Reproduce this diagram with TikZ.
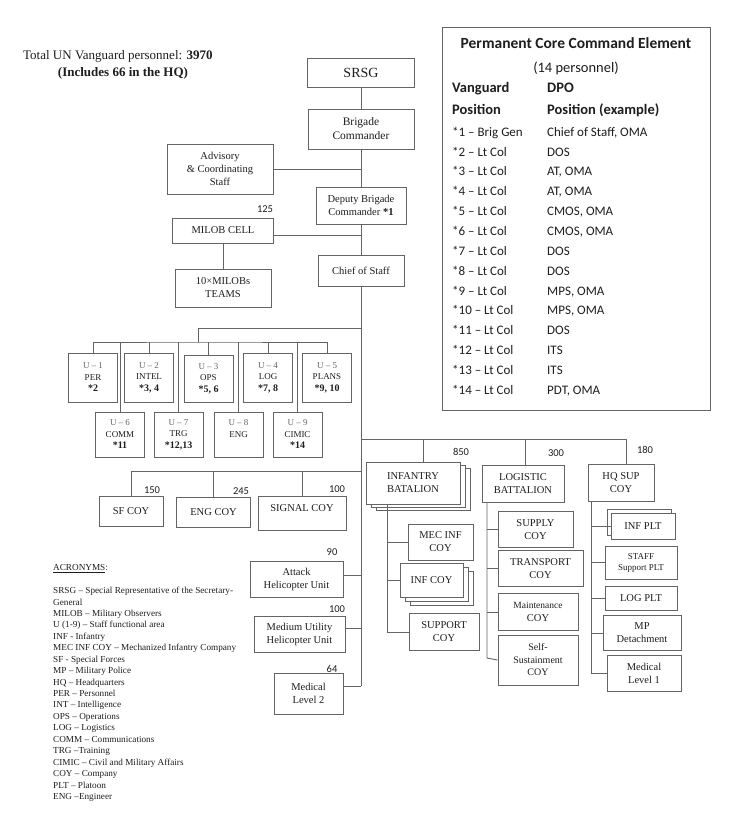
\documentclass[tikz,border=0pt]{standalone}
\usepackage{fontspec}
\setmainfont{Liberation Serif}
\newfontfamily\calibri{Carlito}
\usetikzlibrary{shadows}
\definecolor{linegray}{RGB}{100,100,100}
\definecolor{textgray}{RGB}{30,30,30}
\newcommand{\ulab}[3]{{\color{black!60}U – #1}\\#2\\{\fontsize{10}{11.5}\selectfont\bfseries #3}}

\begin{document}
\begin{tikzpicture}[x=1pt,y=-1pt]
\tikzstyle{every node}+=[inner sep=0pt, text=textgray]
\tikzstyle{box}=[draw=linegray, fill=white, line width=0.9pt, align=center, font=\fontsize{10.5}{13}\selectfont]
\tikzstyle{ubox}=[box, minimum width=49pt, font=\fontsize{9}{11.5}\selectfont]
\tikzstyle{num}=[font=\calibri\fontsize{10.5}{12}\selectfont]
\tikzstyle{conn}=[draw=linegray, line width=0.9pt]
\tikzstyle{stack}=[double copy shadow={shadow xshift=5pt, shadow yshift=-3pt, draw=linegray, fill=white, line width=0.9pt}]
\tikzstyle{tab}=[anchor=base west, font=\calibri\fontsize{13}{15}\selectfont]
\tikzstyle{tabhead}=[anchor=base west, font=\calibri\bfseries\fontsize{14.5}{17}\selectfont]
\fill [white] (0,0) rectangle (738,823);
\useasboundingbox (0,0) rectangle (738,823);

% head count
\node [anchor=base west, font=\fontsize{13}{15}\selectfont] (total) at (23,59) {Total UN Vanguard personnel: \textbf{3970}};
\node [anchor=base, font=\bfseries\fontsize{13}{15}\selectfont] (inclhq) at (123,76) {(Includes 66 in the HQ)};

% command chain
\node [box, minimum width=107pt, minimum height=29pt, font=\fontsize{14}{16}\selectfont] (srsg) at (361,72.5) {SRSG};
\node [box, minimum width=106pt, minimum height=40pt, font=\fontsize{11.5}{14}\selectfont] (brig) at (361,129) {Brigade\\Commander};
\node [box, minimum width=106pt, minimum height=50pt] (adv) at (220,169) {Advisory\\\& Coordinating\\Staff};
\node [box, minimum width=90pt, minimum height=37pt] (dep) at (361,205.5) {Deputy Brigade\\Commander \textbf{*1}};
\node [box, minimum width=101pt, minimum height=25pt] (milob) at (223,230.5) {MILOB CELL};
\node [box, minimum width=96pt, minimum height=38pt] (teams) at (223,288) {10×MILOBs\\TEAMS};
\node [box, minimum width=86pt, minimum height=31pt] (cos) at (361,270.5) {Chief of Staff};
\node [num] (n125) at (265,209) {125};

% staff cells
\node [ubox, minimum height=49pt] (u1) at (93,377.5) {\ulab{1}{PER}{*2}};
\node [ubox, minimum height=49pt] (u2) at (149,377.5) {\ulab{2}{INTEL}{*3, 4}};
\node [ubox, minimum height=47pt] (u3) at (208.5,378.5) {\ulab{3}{OPS}{*5, 6}};
\node [ubox, minimum height=49pt] (u4) at (268,377.5) {\ulab{4}{LOG}{*7, 8}};
\node [ubox, minimum height=49pt] (u5) at (327,377.5) {\ulab{5}{PLANS}{*9, 10}};
\node [ubox, minimum height=45pt] (u6) at (120,434.5) {\ulab{6}{COMM}{*11}};
\node [ubox, minimum height=45pt] (u7) at (178.5,434.5) {\ulab{7}{TRG}{*12,13}};
\node [ubox, minimum height=45pt] (u8) at (238.5,434.5) {\ulab{8}{ENG}{\phantom{*8}}};
\node [ubox, minimum height=45pt] (u9) at (297.5,434.5) {\ulab{9}{CIMIC}{*14}};

% companies off the chief of staff
\node [box, minimum width=64pt, minimum height=30pt] (sf) at (131,511) {SF COY};
\node [box, minimum width=74pt, minimum height=30pt] (eng) at (213.5,512) {ENG COY};
\node [box, minimum width=88pt, minimum height=34pt, text depth=10pt] (signal) at (302,513) {SIGNAL COY};
\node [num] (n150) at (152,490) {150};
\node [num] (n245) at (241,491) {245};
\node [num] (n100a) at (337,489) {100};
\node [box, minimum width=93pt, minimum height=36pt] (atk) at (296.5,579) {Attack\\Helicopter Unit};
\node [box, minimum width=91pt, minimum height=36pt] (muh) at (299.5,634) {Medium Utility\\Helicopter Unit};
\node [box, minimum width=69pt, minimum height=41pt] (med2) at (308.5,693.5) {Medical\\Level 2};
\node [num] (n90) at (332,552) {90};
\node [num] (n100b) at (337,609) {100};
\node [num] (n64) at (332,669) {64};

% infantry battalion
\node [box, stack, minimum width=94pt, minimum height=42pt] (infbn) at (413,483) {INFANTRY\\BATALION};
\node [box, minimum width=65pt, minimum height=36pt] (mecinf) at (440.5,542) {MEC INF\\COY};
\node [box, double copy shadow={shadow xshift=5pt, shadow yshift=-4pt, draw=linegray, fill=white, line width=0.9pt}, minimum width=63pt, minimum height=34pt] (infcoy) at (431.5,580) {INF COY};
\node [box, minimum width=70pt, minimum height=37pt] (support) at (444,632) {SUPPORT\\COY};
\node [num] (n850) at (461,452) {850};

% logistic battalion
\node [box, minimum width=82pt, minimum height=37pt] (logbn) at (523,483.5) {LOGISTIC\\BATTALION};
\node [box, minimum width=75pt, minimum height=36pt] (supply) at (535.5,529.5) {SUPPLY\\COY};
\node [box, minimum width=85pt, minimum height=36pt] (transport) at (540.5,568.5) {TRANSPORT\\COY};
\node [box, minimum width=80pt, minimum height=37pt] (maint) at (538,612) {{\fontsize{9.5}{12}\selectfont Maintenance}\\COY};
\node [box, minimum width=80pt, minimum height=50pt, font=\fontsize{10}{12.5}\selectfont] (selfs) at (538,660) {Self-\\Sustainment\\COY};
\node [num] (n300) at (556,453) {300};

% hq support company
\node [box, minimum width=66pt, minimum height=37pt] (hqsup) at (621,482.5) {HQ SUP\\COY};
\node [box, copy shadow={shadow xshift=-4pt, shadow yshift=4pt, draw=linegray, fill=white, line width=0.9pt}, minimum width=64pt, minimum height=26pt] (infplt) at (643,526) {INF PLT};
\node [box, minimum width=72pt, minimum height=33pt, font=\fontsize{9}{11}\selectfont] (staff) at (641,562.5) {STAFF\\Support PLT};
\node [box, minimum width=72pt, minimum height=24pt] (logplt) at (641,598) {LOG PLT};
\node [box, minimum width=78pt, minimum height=35pt] (mp) at (642,633) {MP\\Detachment};
\node [box, minimum width=74pt, minimum height=36pt] (med1) at (644,673) {Medical\\Level 1};
\node [num] (n180) at (645,450) {180};

% connectors
\coordinate (trunk) at (361,686);
\coordinate (ujoin) at (361,328);
\coordinate (ubus) at (198,342);
\coordinate (cbus) at (361,439);
\coordinate (lbus) at (361,471);
\coordinate (infrail) at (387,632);
\coordinate (lograil) at (487,658);
\coordinate (hqrail) at (591,673);
\draw [conn] (srsg) -- (brig) -- (dep) -- (cos) -- (trunk);
\draw [conn] (adv.east) -- (adv.east -| brig.south);
\draw [conn] ([yshift=-5pt]milob.east) -- ([yshift=-5pt]milob.east -| dep.south);
\draw [conn] (milob) -- (teams);
\draw [conn] (ujoin) -| (ubus);
\draw [conn] (u1.north) |- (ubus) -| (u5.north);
\foreach \u in {u2,u3,u4,u6,u7,u8,u9}
  \draw [conn] (\u.north) -- (\u.north |- ubus);
\draw [conn] (lbus) -| (sf.north);
\draw [conn] (eng.north) -- (eng.north |- lbus);
\draw [conn] (signal.north) -- (signal.north |- lbus);
\draw [conn] ([yshift=4pt]atk.east) -- ([yshift=4pt]atk.east -| trunk);
\draw [conn] ([yshift=6pt]muh.east) -- ([yshift=6pt]muh.east -| trunk);
\draw [conn] ([yshift=7.5pt]med2.east) -- (trunk);
\draw [conn] (cbus) -| ([xshift=5pt]hqsup.north);
\draw [conn] ([xshift=10pt]infbn.north) -- ([xshift=10pt]infbn.north |- cbus);
\draw [conn] ([xshift=2pt]logbn.north) -- ([xshift=2pt]logbn.north |- cbus);
\draw [conn] (infbn.south -| infrail) -- (infrail) -- (support.west);
\draw [conn] (mecinf.west) -- (mecinf.west -| infrail);
\draw [conn] (infcoy.west) -- (infcoy.west -| infrail);
\draw [conn] (logbn.south -| lograil) -- (lograil) -- (selfs.west);
\draw [conn] (supply.west) -- (supply.west -| lograil);
\draw [conn] (transport.west) -- (transport.west -| lograil);
\draw [conn] (maint.west) -- (maint.west -| lograil);
\draw [conn] (hqsup.south -| hqrail) -- (hqrail) -- (med1.west);
\draw [conn] (infplt.west) -- (infplt.west -| hqrail);
\draw [conn] (staff.west) -- (staff.west -| hqrail);
\draw [conn] (logplt.west) -- (logplt.west -| hqrail);
\draw [conn] (mp.west) -- (mp.west -| hqrail);

% core command element
\node [draw=linegray, line width=0.9pt, minimum width=268pt, minimum height=383pt] (core) at (576,218.5) {};
\node [anchor=base, font=\calibri\bfseries\fontsize{15.5}{18}\selectfont] (coretitle) at (576,48.5) {Permanent Core Command Element};
\node [anchor=base, font=\calibri\fontsize{14.5}{17}\selectfont] (corecount) at (576,72) {(14 personnel)};
\node [tabhead] (vanhead) at (452,92.7) {Vanguard};
\node [tabhead] (dpohead) at (547,92.7) {DPO};
\node [tabhead] (vanpos) at (452,114.7) {Position};
\node [tabhead] (dpopos) at (547,114.7) {Position (example)};
\foreach \i/\rank/\dpo in {1/Brig Gen/{Chief of Staff, OMA}, 2/Lt Col/DOS, 3/Lt Col/{AT, OMA}, 4/Lt Col/{AT, OMA}, 5/Lt Col/{CMOS, OMA}, 6/Lt Col/{CMOS, OMA}, 7/Lt Col/DOS, 8/Lt Col/DOS, 9/Lt Col/{MPS, OMA}, 10/Lt Col/{MPS, OMA}, 11/Lt Col/DOS, 12/Lt Col/ITS, 13/Lt Col/ITS, 14/Lt Col/{PDT, OMA}} {
  \node [tab] (van\i) at (452,{136.2+19.85*(\i-1)}) {*\i\ – \rank};
  \node [tab] (dpo\i) at (547,{136.2+19.85*(\i-1)}) {\dpo};
}

% acronyms
\node [anchor=north west, align=left, font=\fontsize{9.2}{11.44}\selectfont] (acro) at (53,564.4) {\underline{ACRONYMS}:\\[11.44pt]
SRSG – Special Representative of the Secretary-\\General\\
MILOB – Military Observers\\
U (1-9) – Staff functional area\\
INF - Infantry\\
MEC INF COY – Mechanized Infantry Company\\
SF - Special Forces\\
MP – Military Police\\
HQ – Headquarters\\
PER – Personnel\\
INT – Intelligence\\
OPS – Operations\\
LOG – Logistics\\
COMM – Communications\\
TRG –Training\\
CIMIC – Civil and Military Affairs\\
COY – Company\\
PLT – Platoon\\
ENG –Engineer};
\end{tikzpicture}
\end{document}
